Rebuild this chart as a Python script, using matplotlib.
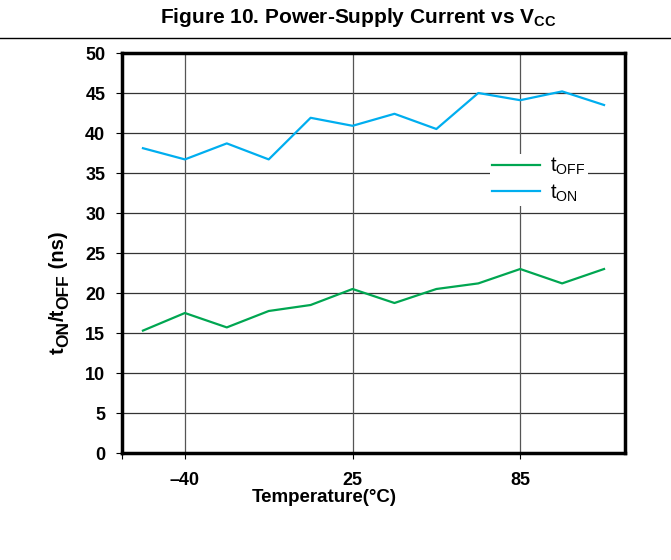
import matplotlib
matplotlib.use('Agg')
import matplotlib.pyplot as plt
from matplotlib.lines import Line2D
from matplotlib.transforms import IdentityTransform

plt.rcParams['font.family'] = ['Liberation Sans', 'DejaVu Sans']
plt.rcParams['mathtext.fontset'] = 'custom'
plt.rcParams['mathtext.rm'] = 'Liberation Sans'
plt.rcParams['mathtext.bf'] = 'Liberation Sans:bold'
plt.rcParams['mathtext.it'] = 'Liberation Sans:italic'

# Data (12 evenly spaced temperature points)
point_index = list(range(12))
t_off = [15.3, 17.5, 15.7, 17.75, 18.5, 20.5, 18.75, 20.5, 21.2, 23.0, 21.2, 23.0]
t_on = [38.1, 36.7, 38.7, 36.7, 41.9, 40.9, 42.4, 40.5, 45.0, 44.1, 45.2, 43.5]
xtick_pos = [1, 5, 9]
xtick_labels = ['\u201340', '25', '85']
ytick_vals = list(range(0, 51, 5))

green = '#00a651'
blue = '#00aeef'

W, H = 671, 560
fig = plt.figure(figsize=(W / 100, H / 100), dpi=100)
ax = fig.add_axes([122 / W, 1 - 453 / H, (625 - 122) / W, (453 - 53) / H])

# title and rule under it
fig.text(358 / W, 1 - 23 / H, r'Figure 10. Power-Supply Current vs V$_{\mathbf{CC}}$',
         ha='center', va='baseline', fontsize=15, fontweight='bold')
fig.add_artist(Line2D([0, 1], [1 - 38 / H, 1 - 38 / H], color='black', lw=1.0,
                      transform=fig.transFigure))

# gridlines
for y in ytick_vals[1:-1]:
    ax.axhline(y, color='#333333', lw=0.9, zorder=1)
for x in xtick_pos:
    ax.axvline(x, color='#555555', lw=0.9, zorder=1)

ax.plot(point_index, t_off, color=green, lw=1.6, label=r'$\mathregular{t_{OFF}}$', zorder=3)
ax.plot(point_index, t_on, color=blue, lw=1.6, label=r'$\mathregular{t_{ON}}$', zorder=3)

ax.set_xlim(-0.5, 11.5)
ax.set_ylim(0, 50)
ax.set_yticks(ytick_vals)
ax.set_xticks(xtick_pos)
ax.set_xticklabels(xtick_labels)
ax.set_xticks([-0.5], minor=True)
ax.tick_params(axis='both', direction='out', length=4, width=0.8, labelsize=13)
ax.tick_params(axis='y', pad=8)
ax.tick_params(axis='x', pad=10)
ax.tick_params(axis='x', which='minor', length=4, width=0.8)
for lbl in ax.get_xticklabels() + ax.get_yticklabels():
    lbl.set_fontweight('bold')

for s in ax.spines.values():
    s.set_linewidth(2.5)

ax.set_xlabel('Temperature(\u00b0C)', fontsize=13.5, fontweight='bold')
ax.xaxis.set_label_coords((324 - 122) / 503, -(489 - 453) / 400)

# y label built from pieces so the subscripts stay large
renderer = fig.canvas.get_renderer()
pieces = [('t', 14.5, 0), ('ON', 12.5, 4), ('/t', 14.5, 0), ('OFF', 12.5, 4), (' (ns)', 14.5, 0)]
ypos = H - 354
for s, size, off in pieces:
    t = fig.text(64 + off, ypos, s, rotation=90, rotation_mode='anchor', ha='left',
                 va='baseline', fontsize=size, fontweight='bold', transform=IdentityTransform())
    ypos += t.get_window_extent(renderer).height

leg = ax.legend(loc='center left', bbox_to_anchor=((490 - 122) / 503, (453 - 180) / 400),
                frameon=True, fontsize=14.5, handlelength=2.4, handletextpad=0.5,
                labelspacing=0.25, borderpad=0.1, borderaxespad=0)
leg.get_frame().set_edgecolor('none')
leg.get_frame().set_facecolor('white')
leg.get_frame().set_alpha(1)
leg.set_zorder(4)

fig.savefig('out.png', dpi=100)
